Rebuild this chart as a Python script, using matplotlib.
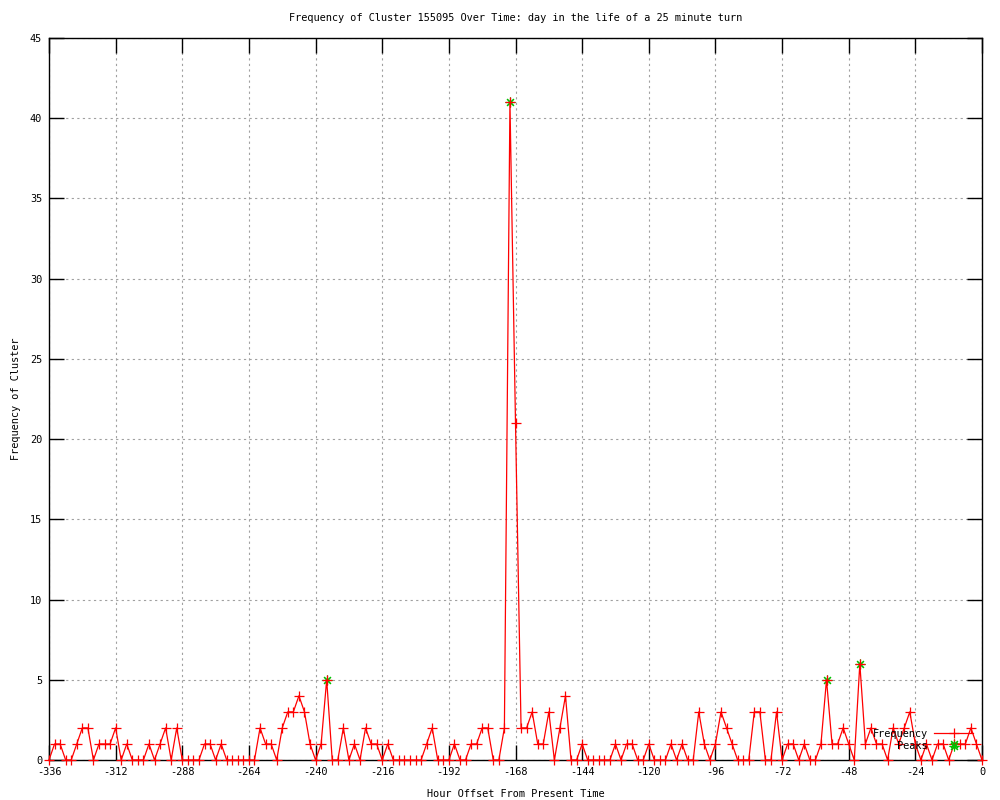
import numpy as np
import matplotlib
matplotlib.use("Agg")
import matplotlib.pyplot as plt

# hourly buckets, every 2 hours from -336 to 0
hours = list(range(-336, 1, 2))
counts = [
    0, 1, 1, 0, 0, 1, 2, 2, 0, 1, 1, 1, 2, 0, 1, 0, 0, 0, 1, 0,
    1, 2, 0, 2, 0, 0, 0, 0, 1, 1, 0, 1, 0, 0, 0, 0, 0, 0, 2, 1,
    1, 0, 2, 3, 3, 4, 3, 1, 0, 1, 5, 0, 0, 2, 0, 1, 0, 2, 1, 1,
    0, 1, 0, 0, 0, 0, 0, 0, 1, 2, 0, 0, 0, 1, 0, 0, 1, 1, 2, 2,
    0, 0, 2, 41, 21, 2, 2, 3, 1, 1, 3, 0, 2, 4, 0, 0, 1, 0, 0, 0,
    0, 0, 1, 0, 1, 1, 0, 0, 1, 0, 0, 0, 1, 0, 1, 0, 0, 3, 1, 0,
    1, 3, 2, 1, 0, 0, 0, 3, 3, 0, 0, 3, 0, 1, 1, 0, 1, 0, 0, 1,
    5, 1, 1, 2, 1, 0, 6, 1, 2, 1, 1, 0, 2, 1, 2, 3, 1, 0, 1, 0,
    1, 1, 0, 1, 1, 1, 2, 1, 0,
]
peak_hours = [-236, -170, -56, -44, -10]
peak_counts = [5, 41, 5, 6, 1]

x_ticks = list(range(-336, 1, 24))
y_ticks = list(range(0, 46, 5))

FS = 7.4
plt.rcParams["font.family"] = "DejaVu Sans Mono"
plt.rcParams["axes.unicode_minus"] = False

fig = plt.figure(figsize=(10, 8), dpi=100)
ax = fig.add_axes([0.049, 0.05, 0.933, 0.9025])

ax.plot(peak_hours, peak_counts, linestyle="none", marker=(8, 2, 0),
        color="#00c000", markersize=7, markeredgewidth=0.8,
        label="Peaks", clip_on=False, zorder=3)
ax.plot(hours, counts, color="#ff0000", linewidth=0.9, marker="+",
        markersize=7, markeredgewidth=0.9, label="Frequency",
        clip_on=False, zorder=4)

ax.set_xlim(-336, 0)
ax.set_ylim(0, 45)
ax.set_xticks(x_ticks)
ax.set_yticks(y_ticks)
ax.tick_params(direction="in", length=11, width=1, top=True, right=True,
               labelsize=FS, colors="black", pad=5)
for s in ax.spines.values():
    s.set_linewidth(1)
    s.set_color("black")

ax.grid(True, color="#a0a0a0", linestyle=(0, (2, 3)), linewidth=0.8)
ax.set_axisbelow(True)

ax.set_title("Frequency of Cluster 155095 Over Time: day in the life of a 25 minute turn",
             fontsize=FS, pad=12)
ax.set_xlabel("Hour Offset From Present Time", fontsize=FS, labelpad=9)
ax.set_ylabel("Frequency of Cluster", fontsize=FS, labelpad=6)

h, l = ax.get_legend_handles_labels()
ax.legend(h[::-1], l[::-1], loc="lower right", bbox_to_anchor=(0.996, 0.005),
          frameon=False, markerfirst=False, fontsize=FS, handlelength=3.8,
          handletextpad=0.6, labelspacing=0.25, borderpad=0)

fig.savefig("out.png", dpi=100)
